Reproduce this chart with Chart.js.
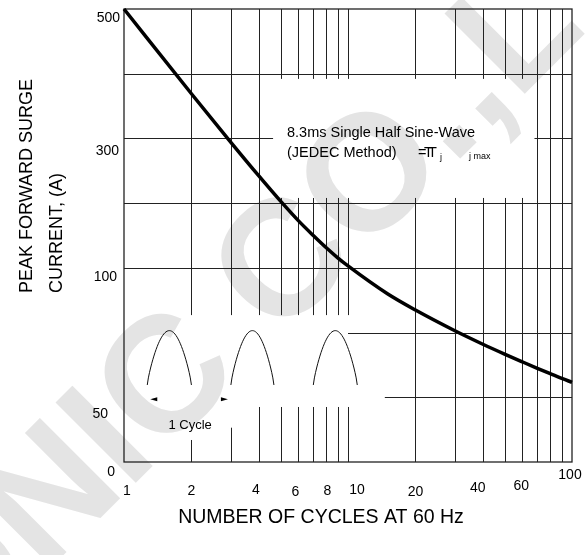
<!DOCTYPE html>
<html>
<head>
<meta charset="utf-8">
<script src="https://cdn.jsdelivr.net/npm/chart.js@4/dist/chart.umd.min.js"></script>
<style>
  body { margin: 0; background: #fff; }
  canvas { display: block; }
</style>
</head>
<body>
<canvas id="surgeChart" width="586" height="555"></canvas>
<script>
// Number of cycles at 60 Hz and the peak forward surge current (A)
const cycles = [1, 2, 3, 4, 5, 6, 7, 8, 9, 10, 15, 20, 30, 40, 50, 60, 70, 80, 90, 100];
const surgeAmps = [500, 369, 294, 242, 203, 173, 150, 131, 115.5, 103, 90, 83.7, 75.7, 70.5, 66.7, 63.7, 61.2, 59.1, 57.3, 55.8];

const xTickLabels = [1, 2, 4, 6, 8, 10, 20, 40, 60, 100];
const yTickLabels = [0, 50, 100, 300, 500];

// the printed current axis is not a real scale: its labels sit on grid divisions 0,1,3,5,7
const yLabelDivs = [0, 1, 3, 5, 7];
const DIVS = 7;

function ampsToDiv(a) {
  for (let i = 1; i < yTickLabels.length; i++) {
    if (a <= yTickLabels[i] || i === yTickLabels.length - 1) {
      const t = (a - yTickLabels[i - 1]) / (yTickLabels[i] - yTickLabels[i - 1]);
      return yLabelDivs[i - 1] + t * (yLabelDivs[i] - yLabelDivs[i - 1]);
    }
  }
}
function divToAmps(d) {
  for (let i = 1; i < yLabelDivs.length; i++) {
    if (d <= yLabelDivs[i] || i === yLabelDivs.length - 1) {
      const t = (d - yLabelDivs[i - 1]) / (yLabelDivs[i] - yLabelDivs[i - 1]);
      return yTickLabels[i - 1] + t * (yTickLabels[i] - yTickLabels[i - 1]);
    }
  }
}

// y scale that follows the sheet's uneven divisions
class SurgeScale extends Chart.LinearScale {
  getPixelForValue(value) {
    if (value === null || value === undefined) return NaN;
    return this.getPixelForDecimal(ampsToDiv(value) / DIVS);
  }
  getValueForPixel(pixel) {
    return divToAmps(this.getDecimalForPixel(pixel) * DIVS);
  }
}
SurgeScale.id = "surge";
SurgeScale.defaults = Chart.LinearScale.defaults;
Chart.register(SurgeScale);

// broken grid of the datasheet: [division, from cycles, to cycles]
const hGrid = [
  [6, 1, 100], [5, 1, 4.63], [5, 68, 100], [4, 1, 100], [3, 1, 100], [2, 10, 100], [1, 14.6, 100],
];
// [cycles, [[fromDiv, toDiv], ...]]
const boxGap = [[0, 0.85], [2.27, 4.08], [5.92, 7]];
const vGrid = [
  [2, [[0, 0.34], [2.27, 7]]], [3, [[0, 0.53], [2.27, 7]]], [4, [[0, 0.85], [2.27, 7]]],
  [5, boxGap], [6, boxGap], [7, boxGap], [8, boxGap], [9, boxGap], [10, boxGap],
  [20, [[0, 4.08], [5.92, 7]]], [30, [[0, 4.08], [5.92, 7]]], [40, [[0, 4.08], [5.92, 7]]],
  [50, [[0, 4.08], [5.92, 7]]], [60, [[0, 4.08], [5.92, 7]]],
  [70, [[0, 7]]], [80, [[0, 7]]], [90, [[0, 7]]],
];
// half sine pulses in the inset: [start cycles, end cycles]
const pulses = [[1.27, 2], [3, 4.67], [7, 11]];

// small label nudges so they sit where the sheet prints them
const xLabelNudge = [[3, 29], [0, 29], [-3, 28], [-3, 30], [1, 29], [9, 28], [0, 30], [-5, 26], [-1, 24], [-2, 13]];
const yLabelNudge = [[-9, 10], [-16, 17], [-7, 9], [-5, 13], [-4, 9]];

const FONT = "'Liberation Sans', Arial, sans-serif";

const sheetPlugin = {
  id: "sheet",
  beforeDatasetsDraw(chart) {
    const { ctx, chartArea: ca, scales } = chart;
    const px = (v) => scales.x.getPixelForValue(v);
    const py = (d) => scales.y.getPixelForValue(divToAmps(d));
    ctx.save();

    // watermark
    ctx.save();
    ctx.translate(365, 170);
    ctx.rotate(-Math.PI / 4);
    ctx.fillStyle = "#e4e4e4";
    ctx.font = "bold 165px " + FONT;
    ctx.textBaseline = "alphabetic";
    const wO = ctx.measureText("O").width;
    const base = 0.358 * 165;
    ctx.textAlign = "right";
    ctx.fillText("ELECTRONIC C", -wO / 2, base);
    ctx.textAlign = "center";
    ctx.fillText("O", 0, base);
    ctx.textAlign = "left";
    ctx.fillText(".,LTD", wO / 2, base);
    ctx.restore();

    // grid
    ctx.strokeStyle = "#222";
    ctx.lineWidth = 1;
    ctx.beginPath();
    hGrid.forEach(([d, a, b]) => {
      const yy = Math.round(py(d)) + 0.5;
      ctx.moveTo(px(a), yy);
      ctx.lineTo(px(b), yy);
    });
    vGrid.forEach(([c, segs]) => {
      const xx = Math.round(px(c)) + 0.5;
      segs.forEach(([d0, d1]) => {
        ctx.moveTo(xx, py(d0));
        ctx.lineTo(xx, py(d1));
      });
    });
    ctx.stroke();
    ctx.lineWidth = 1.3;
    ctx.strokeRect(ca.left, ca.top, ca.right - ca.left, ca.bottom - ca.top);

    // pulses
    ctx.lineWidth = 1;
    ctx.strokeStyle = "#111";
    pulses.forEach(([a, b]) => {
      const x0 = px(a), x1 = px(b);
      const yb = py(1.19), h = yb - py(2.03);
      ctx.beginPath();
      for (let i = 0; i <= 40; i++) {
        const t = i / 40;
        const xx = x0 + t * (x1 - x0);
        const yy = yb - h * Math.pow(Math.sin(Math.PI * t), 0.8);
        if (i === 0) ctx.moveTo(xx, yy); else ctx.lineTo(xx, yy);
      }
      ctx.stroke();
    });
    // 1 cycle arrow heads
    ctx.fillStyle = "#000";
    const ya = py(0.97);
    const la = px(1.31), ra = px(2.91);
    ctx.beginPath();
    ctx.moveTo(la, ya); ctx.lineTo(la + 7, ya - 2); ctx.lineTo(la + 7, ya + 2); ctx.closePath();
    ctx.moveTo(ra, ya); ctx.lineTo(ra - 7, ya - 2); ctx.lineTo(ra - 7, ya + 2); ctx.closePath();
    ctx.fill();

    ctx.fillStyle = "#000";
    ctx.textBaseline = "middle";
    ctx.font = "13px " + FONT;
    ctx.textAlign = "center";
    ctx.fillText("1 Cycle", (la + ra) / 2 + 1, py(0.56));

    // inset note
    const nx = ca.left + 163, ny = ca.top + 124;
    ctx.font = "14.5px " + FONT;
    ctx.textAlign = "left";
    ctx.fillText("8.3ms Single Half Sine-Wave", nx, ny);
    ctx.fillText("(JEDEC Method)", nx, ny + 20);
    ctx.fillText("=", nx + 131, ny + 20);
    ctx.fillText("T", nx + 137, ny + 20);
    ctx.fillText("T", nx + 141, ny + 20);
    ctx.font = "9px " + FONT;
    ctx.fillText("j", nx + 153, ny + 25);
    ctx.fillText("j max", nx + 182, ny + 24);

    // tick labels
    ctx.font = "14px " + FONT;
    ctx.textAlign = "center";
    xTickLabels.forEach((v, i) => {
      ctx.fillText(String(v), px(v) + xLabelNudge[i][0], ca.bottom + xLabelNudge[i][1]);
    });
    ctx.textAlign = "right";
    yTickLabels.forEach((v, i) => {
      ctx.fillText(String(v), ca.left + yLabelNudge[i][0], scales.y.getPixelForValue(v) + yLabelNudge[i][1]);
    });

    // axis titles
    ctx.font = "19.5px " + FONT;
    ctx.textAlign = "center";
    ctx.fillText("NUMBER OF CYCLES AT 60 Hz", 321, ca.bottom + 56);
    ctx.save();
    ctx.translate(27, 293);
    ctx.rotate(-Math.PI / 2);
    ctx.font = "18px " + FONT;
    ctx.textAlign = "left";
    ctx.fillText("PEAK FORWARD SURGE", 0, 0);
    ctx.fillText("CURRENT, (A)", 0, 30);
    ctx.restore();

    ctx.restore();
  },
};

new Chart(document.getElementById("surgeChart").getContext("2d"), {
  type: "line",
  data: {
    labels: cycles,
    datasets: [
      {
        label: "Peak forward surge current",
        data: cycles.map((c, i) => ({ x: c, y: surgeAmps[i] })),
        borderColor: "#000",
        borderWidth: 3.5,
        pointRadius: 0,
        cubicInterpolationMode: "monotone",
        clip: false,
      },
    ],
  },
  options: {
    responsive: false,
    animation: false,
    layout: { padding: { left: 124, right: 14, top: 9, bottom: 93 } },
    plugins: { legend: { display: false }, tooltip: { enabled: false } },
    scales: {
      x: { type: "logarithmic", min: 1, max: 100, display: false },
      y: { type: "surge", min: 0, max: 500, display: false },
    },
  },
  plugins: [sheetPlugin],
});
</script>
</body>
</html>
